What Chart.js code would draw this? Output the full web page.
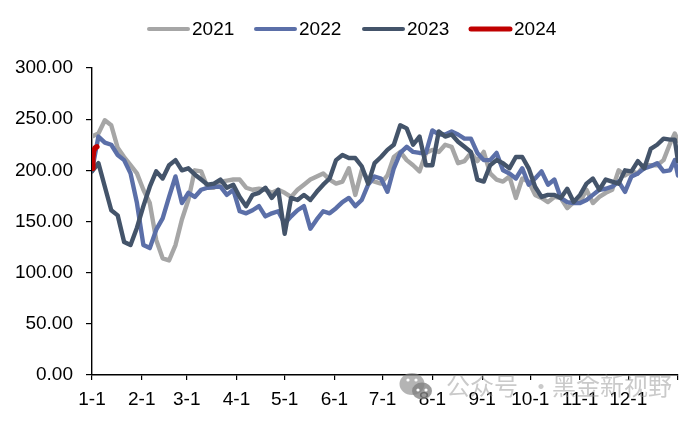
<!DOCTYPE html>
<html><head><meta charset="utf-8">
<style>html,body{margin:0;padding:0;background:#fff}#w{position:relative;width:700px;height:423px}</style>
<script src="https://cdn.jsdelivr.net/npm/chart.js@4"></script></head>
<body><div id="w"><canvas id="c" width="700" height="423"></canvas></div>
<script>
const monthDays=[0,31,59,90,120,151,181,212,243,273,304,334,365];
const monthLabels=["1-1","2-1","3-1","4-1","5-1","6-1","7-1","8-1","9-1","10-1","11-1","12-1",""];
const days=[0,4,8,12,16,20,24,28,32,36,40,44,48,52,56,60,64,68,72,76,80,84,88,92,96,100,104,108,112,116,120,124,128,132,136,140,144,148,152,156,160,164,168,172,176,180,184,188,192,196,200,204,208,212,216,220,224,228,232,236,240,244,248,252,256,260,264,268,272,276,280,284,288,292,296,300,304,308,312,316,320,324,328,332,336,340,344,348,352,356,360,363,365];
const y2021=[233,236,249,244,222,213,205,197,181,168,132,114,112,127,152,171,200,199,183,183,189,190,191,191,183,181,182,181,178,181,178,174,181,186,191,194,197,191,187,189,202,176,200,191,189,187,195,213,218,210,205,199,217,220,218,225,223,207,209,217,209,218,197,191,189,194,173,192,189,176,173,169,174,173,163,169,169,181,168,174,178,181,200,195,199,197,205,205,205,210,226,236,229];
const y2022=[200,233,227,225,215,210,197,168,127,124,142,153,174,194,168,178,174,181,183,184,184,176,181,160,158,161,165,155,158,160,148,155,161,165,143,152,160,158,163,169,173,165,171,186,194,192,179,202,217,223,218,217,217,239,235,235,238,235,231,231,217,210,210,217,200,197,192,202,186,192,199,186,191,173,169,168,168,171,176,181,182,184,189,179,194,197,202,204,207,199,200,210,195];
const y2023=[199,207,184,161,156,130,127,144,165,184,199,192,205,210,200,202,196,191,186,187,191,183,186,174,165,176,178,183,173,181,138,173,171,176,171,179,186,192,210,215,212,212,204,187,207,213,220,225,244,241,225,233,205,205,238,233,235,228,223,218,191,189,205,210,207,202,213,213,202,184,174,176,176,173,182,169,176,187,192,181,191,189,187,200,199,209,202,221,225,231,230,230,209];
const days2024=[0,0.5,1,2,3];
const y2024=[202,212,219,222,223];
const yTicks=[0,50,100,150,200,250,300];
const seriesNames=["2021","2022","2023","2024"];
const colors=["#A6A6A6","#5B6FA8","#44546A","#C00000"];
const pts=(xs,ys)=>xs.map((x,i)=>({x,y:ys[i]}));
const FONT='"Liberation Sans", Arial, sans-serif';
const AREA={left:92,right:678,top:68,bottom:375};
const watermark={id:'watermark',afterDraw(ch){const g=ch.ctx;g.save();
 g.fillStyle='rgba(130,130,130,0.6)';
 g.beginPath();g.ellipse(412,384,12.5,11,0,0,7);g.fill();
 g.beginPath();g.ellipse(422,391,10,8.5,0,0,7);g.fillStyle='rgba(130,130,130,0.8)';g.fill();
 g.fillStyle='#fff';[[408,380],[416,380],[418,390],[426,390]].forEach(p=>{g.beginPath();g.arc(p[0],p[1],1.6,0,7);g.fill();});
 g.fillStyle='rgba(150,150,150,0.5)';g.font='24px "Noto Sans CJK SC"';g.textBaseline='middle';g.textAlign='left';
 g.fillText('公众号',446,386);g.fillText('·',529,386);g.fillText('黑金新视野',552,386);g.restore();}};
const legendDraw={id:'legendDraw',afterDraw(ch){const g=ch.ctx;g.save();g.font='19px '+FONT;g.textBaseline='middle';g.textAlign='left';
 [147,254,362,469].forEach((x,i)=>{const ds=ch.data.datasets[i];g.strokeStyle=ds.borderColor;g.lineWidth=i==3?5:4;g.lineCap='round';
  g.beginPath();g.moveTo(x+2,29);g.lineTo(x+41,29);g.stroke();g.fillStyle='#000';g.fillText(ds.label,x+45,29.5);});g.restore();}};
new Chart(document.getElementById('c'),{type:'line',
 data:{datasets:[
  {label:seriesNames[0],data:pts(days,y2021),borderColor:colors[0],order:3},
  {label:seriesNames[1],data:pts(days,y2022),borderColor:colors[1],order:2},
  {label:seriesNames[2],data:pts(days,y2023),borderColor:colors[2],order:1},
  {label:seriesNames[3],data:pts(days2024,y2024),borderColor:colors[3],order:0,borderWidth:5.5}]},
 options:{responsive:false,animation:false,
  layout:{padding:{left:0,right:22,top:AREA.top,bottom:0}},
  elements:{point:{radius:0},line:{borderWidth:4.4,tension:0,borderJoinStyle:'round',borderCapStyle:'round'}},
  plugins:{legend:{display:false},tooltip:{enabled:false}},
  scales:{
   x:{type:'linear',min:0,max:365,afterFit(s){s.height=423-AREA.bottom;},
    afterBuildTicks(s){s.ticks=monthDays.map(v=>({value:v}));},
    grid:{display:true,drawOnChartArea:false,drawTicks:true,tickLength:5,color:'#000',lineWidth:1.2},
    border:{display:true,color:'#000',width:1.4},
    ticks:{autoSkip:false,maxRotation:0,padding:8,color:'#000',font:{family:FONT,size:19},callback(v){return monthLabels[monthDays.indexOf(v)];}}},
   y:{min:0,max:300,afterFit(s){s.width=AREA.left;},
    afterBuildTicks(s){s.ticks=yTicks.map(v=>({value:v}));},
    grid:{display:true,drawOnChartArea:false,drawTicks:true,tickLength:6,color:'#000',lineWidth:1.2},
    border:{display:true,color:'#000',width:1.4},
    ticks:{padding:13,color:'#000',font:{family:FONT,size:19},callback(v){return v.toFixed(2);}}}
  }},
 plugins:[watermark,legendDraw]});
</script></body></html>
